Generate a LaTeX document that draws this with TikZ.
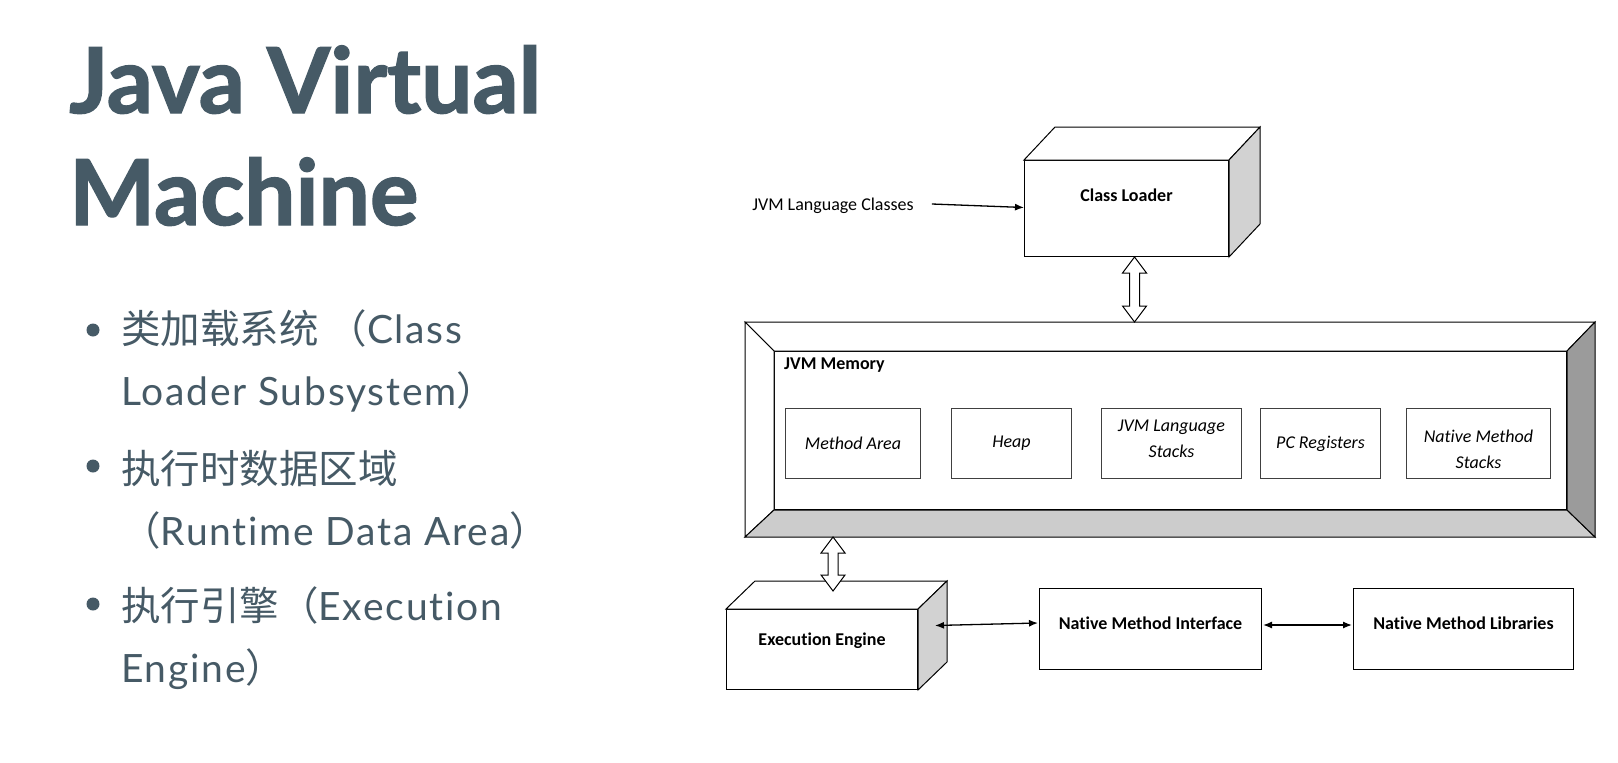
\documentclass[tikz,border=0pt]{standalone}
\usepackage{fontspec}
\setmainfont{Lato}[Ligatures={NoCommon}]
\newfontfamily\titlefont{Lato}[Ligatures={NoCommon}, BoldFeatures={FakeBold=1.5}]
\newfontfamily\bulletfont{Lato}[Ligatures={NoCommon}, LetterSpace=4.5]
\newfontfamily\cjkfont{Noto Sans CJK SC}
\newfontfamily\calfont{Carlito}[Ligatures={NoCommon}]
\usetikzlibrary{calc,arrows.meta}
\definecolor{slate}{RGB}{70,90,102}
\definecolor{sideface}{RGB}{210,210,210}
\definecolor{bevelbottom}{RGB}{204,204,204}
\definecolor{bevelright}{RGB}{155,155,155}
\newcommand{\hollowarrow}[2]{%
  \draw[hollow] (#1) -- ++(12,16) -- ++(-7,0) -- ($(#2)+(5,-16)$) -- ++(7,0) -- (#2)
    -- ++(-12,-16) -- ++(7,0) -- ($(#1)+(-5,16)$) -- ++(-7,0) -- cycle;}
\newcommand{\zh}[1]{{\cjkfont\fontsize{39.5}{39.5}\selectfont #1}}
\begin{document}
\begin{tikzpicture}[x=1pt,y=-1pt,
  titletext/.style={anchor=base west, inner sep=0pt, text=slate, font=\titlefont\fontsize{91}{91}\selectfont\bfseries},
  bullettext/.style={anchor=base west, inner sep=0pt, text=slate, font=\bulletfont\fontsize{39}{39}\selectfont},
  bulletdot/.style={circle, fill=slate, minimum size=13pt, inner sep=0pt},
  dlabel/.style={inner sep=0pt, font=\calfont\fontsize{18}{22}\selectfont},
  dbold/.style={inner sep=0pt, font=\calfont\bfseries\fontsize{18}{22}\selectfont},
  ilabel/.style={inner sep=0pt, align=center, font=\calfont\itshape\fontsize{18}{26}\selectfont},
  frontbox/.style={draw=black, line width=1pt, fill=white, inner sep=0pt, anchor=north west},
  ibox/.style={draw=black!75, line width=1pt, fill=white, inner sep=0pt, anchor=north west,
     align=center, minimum height=70pt, font=\calfont\itshape\fontsize{18}{26}\selectfont},
  region/.style={draw=black, line width=1pt, inner sep=0pt, anchor=north west},
  face/.style={draw=black, line width=1pt, line join=miter},
  hollow/.style={draw=black, line width=1pt, fill=white, line join=miter},
  conn/.style={line width=1.3pt, -{Latex[length=9pt,width=7pt]}},
  conntwo/.style={line width=1.3pt, {Latex[length=9pt,width=7pt]}-{Latex[length=9pt,width=7pt]}},
]
\useasboundingbox[fill=white] (0,0) rectangle (1618,763);

% ---------- title ----------
\node[titletext] (t1) at (69,113) {Java Virtual};
\node[titletext] (t2) at (69,225) {Machine};

% ---------- bullets ----------
\node[bulletdot] (d1) at (93,330) {};
\node[bulletdot] (d2) at (93,466) {};
\node[bulletdot] (d3) at (93,604) {};
\node[bullettext] (b1) at (121,343) {\zh{类加载系统 （}Class};
\node[bullettext] (b2) at (121,405) {Loader Subsystem\zh{）}};
\node[bullettext] (b3) at (121,483) {\zh{执行时数据区域}};
\node[bullettext] (b4) at (121,545) {\zh{（}Runtime Data Area\zh{）}};
\node[bullettext] (b5) at (121,620) {\zh{执行引擎（}Execution};
\node[bullettext] (b6) at (121,682) {Engine\zh{）}};

% ---------- Class Loader (3D box) ----------
\node[frontbox, minimum width=204pt, minimum height=96pt] (cl) at (1024,160) {};
\draw[face, fill=white] (cl.north west) -- ++(31,-33) -- ($(cl.north east)+(31,-33)$) -- (cl.north east) -- cycle;
\draw[face, fill=sideface] (cl.north east) -- ++(31,-33) -- ($(cl.south east)+(31,-33)$) -- (cl.south east) -- cycle;
\node[dbold] (cltext) at ($(cl.center)+(0,-13)$) {Class Loader};

\node[dlabel] (jvmc) at (833,206) {JVM Language Classes};
\draw[conn] ($(jvmc.east)+(18,-2)$) -- ($(cl.west)+(0,-1)$);

% ---------- JVM Memory (bevelled frame) ----------
\node[region, minimum width=849pt, minimum height=214pt] (memout) at (745,322) {};
\node[region, minimum width=792pt, minimum height=158pt] (mem) at (774,351) {};
\draw[face, fill=white] (memout.north west) -- (memout.north east) -- (mem.north east) -- (mem.north west) -- cycle;
\draw[face, fill=white] (memout.north west) -- (mem.north west) -- (mem.south west) -- (memout.south west) -- cycle;
\draw[face, fill=bevelbottom] (mem.south west) -- (mem.south east) -- (memout.south east) -- (memout.south west) -- cycle;
\draw[face, fill=bevelright] (mem.north east) -- (memout.north east) -- (memout.south east) -- (mem.south east) -- cycle;
\node[dbold, anchor=west] (memlbl) at ($(mem.north west)+(10,14)$) {JVM Memory};

\node[ibox, minimum width=135pt] (ma) at (785,408) {Method Area};
\node[ibox, minimum width=120pt] (hp) at (951,408) {Heap};
\node[ibox, minimum width=140pt] (js) at (1101,408) {};
\node[ilabel] (jstext) at ($(js.center)+(0,-5)$) {JVM Language\\Stacks};
\node[ibox, minimum width=120pt] (pc) at (1260,408) {PC Registers};
\node[ibox, minimum width=144pt] (ns) at (1406,408) {};
\node[ilabel] (nstext) at ($(ns.center)+(0,6)$) {Native Method\\Stacks};

% hollow arrow Class Loader <-> JVM Memory
\coordinate (a1t) at ($(cl.south)+(8,0)$);
\coordinate (a1b) at (a1t |- memout.north);
\hollowarrow{a1t}{a1b}

% ---------- Execution Engine (3D box) ----------
\node[frontbox, minimum width=191pt, minimum height=80pt] (ee) at (726,609) {};
\draw[face, fill=white] (ee.north west) -- ++(29,-28) -- ($(ee.north east)+(29,-28)$) -- (ee.north east) -- cycle;
\draw[face, fill=sideface] (ee.north east) -- ++(29,-28) -- ($(ee.south east)+(29,-28)$) -- (ee.south east) -- cycle;
\node[dbold] (eetext) at ($(ee.center)+(0,-9)$) {Execution Engine};

% hollow arrow JVM Memory <-> Execution Engine
\coordinate (a2t) at ($(memout.south west)+(88,0)$);
\coordinate (a2b) at ($(a2t |- ee.north)+(0,-18)$);
\hollowarrow{a2t}{a2b}

% ---------- native boxes ----------
\node[frontbox, minimum width=222pt, minimum height=81pt] (nmi) at (1039,588) {};
\node[dbold] (nmitext) at ($(nmi.center)+(0,-6)$) {Native Method Interface};
\node[frontbox, minimum width=220pt, minimum height=81pt] (nml) at (1353,588) {};
\node[dbold] (nmltext) at ($(nml.center)+(0,-6)$) {Native Method Libraries};

\draw[conntwo] ($(ee.east)+(17,-24)$) -- ($(nmi.west)+(-1,-6)$);
\draw[conntwo] ($(nmi.east)+(1,-4)$) -- ($(nml.west)+(-1,-4)$);
\end{tikzpicture}
\end{document}
